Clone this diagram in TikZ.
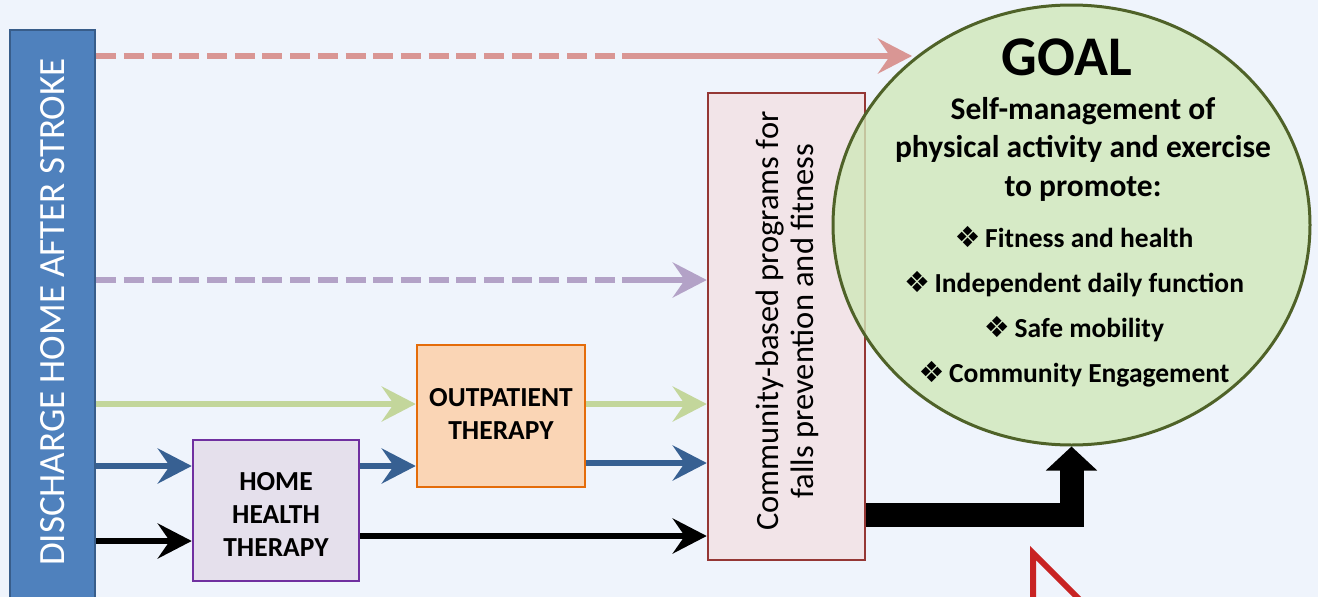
\documentclass[tikz,border=0pt]{standalone}
\usepackage{fontspec}
\setmainfont{Carlito}
\newfontfamily\dejavu{DejaVu Sans}
\usetikzlibrary{arrows.meta,shapes.geometric,calc}
\definecolor{bgc}{RGB}{239,244,252}
\definecolor{barfill}{RGB}{79,129,189}
\definecolor{bardraw}{RGB}{56,93,138}
\definecolor{redc}{RGB}{217,150,148}
\definecolor{purc}{RGB}{179,162,199}
\definecolor{grnc}{RGB}{195,214,155}
\definecolor{bluc}{RGB}{55,96,146}
\definecolor{hhfill}{RGB}{229,224,236}
\definecolor{hhdraw}{RGB}{112,48,160}
\definecolor{opfill}{RGB}{250,213,181}
\definecolor{opdraw}{RGB}{228,108,10}
\definecolor{cmfill}{RGB}{242,228,232}
\definecolor{cmdraw}{RGB}{149,55,53}
\definecolor{glfill}{RGB}{208,232,185}
\definecolor{gldraw}{RGB}{79,98,40}
\definecolor{tric}{RGB}{200,35,35}
\newcommand{\gbullet}{{\dejavu\fontsize{29}{29}\selectfont ❖}\,}
\tikzset{
  boxbase/.style={draw, line width=2.5pt, inner sep=0pt},
  flow/.style={line width=6pt, -{Stealth[length=34pt,width=35pt,inset=12pt]}},
  dashpart/.style={line width=6pt, dash pattern=on 20pt off 7.7pt},
  lbl/.style={font=\fontsize{27.5}{33}\selectfont\bfseries, align=center, inner sep=0pt},
}
\begin{document}
\begin{tikzpicture}[x=1pt,y=-1pt]
\fill[bgc] (0,0) rectangle (1318,597);
\useasboundingbox (0,0) rectangle (1318,597);
\clip (0,0) rectangle (1318,597);
% nodes
\node[boxbase, fill=barfill, draw=bardraw, minimum width=85pt, minimum height=580pt] (bar) at (52.5,320) {};
\node[rotate=90, text=white, font=\fontsize{37}{42}\selectfont, inner sep=0pt] (bartext) at (53,312) {DISCHARGE HOME AFTER STROKE};
\node[boxbase, fill=hhfill, draw=hhdraw, minimum width=166pt, minimum height=141pt] (hh) at (276,510.5) {};
\node[lbl] (hhtext) at (276,514) {HOME\\HEALTH\\THERAPY};
\node[boxbase, fill=opfill, draw=opdraw, minimum width=168pt, minimum height=142pt] (op) at (501,416) {};
\node[lbl] (optext) at (501,414) {OUTPATIENT\\THERAPY};
\node[boxbase, fill=cmfill, draw=cmdraw, minimum width=157pt, minimum height=467pt] (comm) at (786.5,326.5) {};
\node[rotate=90, font=\fontsize{32.5}{35}\selectfont, align=center, inner sep=0pt] (commtext) at (787,321) {Community-based programs for\\falls prevention and fitness};
\node[ellipse, draw=gldraw, line width=3pt, fill=glfill, fill opacity=0.8, minimum width=477pt, minimum height=440pt, inner sep=0pt] (goal) at (1071.5,225) {};
\node[font=\fontsize{56}{60}\selectfont\bfseries, inner sep=0pt] (goaltitle) at (1067,57) {GOAL};
\node[font=\fontsize{31.5}{38.5}\selectfont\bfseries, align=center, inner sep=0pt] (goalsub) at (1083,149) {Self-management of\\physical activity and exercise\\to promote:};
\node[font=\fontsize{27.5}{45}\selectfont\bfseries, align=center, inner sep=0pt] (goalitems) at (1074,307) {\gbullet Fitness and health\\\gbullet Independent daily function\\\gbullet Safe mobility\\\gbullet Community Engagement};
% breaks for dashed connectors
\coordinate (rbreak) at (615,56);
\coordinate (rresume) at (622,56);
\coordinate (rtip) at (912,56);
\coordinate (pbreak) at (615,280);
\coordinate (presume) at (622,280);
% red
\draw[dashpart, redc] (bar.east |- 0,56) -- (rbreak);
\draw[flow, redc] (rresume) -- (rtip);
% purple
\draw[dashpart, purc] (bar.east |- 0,280) -- (pbreak);
\draw[flow, purc] (presume) -- (comm.west |- 0,280);
% green
\draw[flow, grnc] (bar.east |- 0,404) -- (op.west |- 0,404);
\draw[flow, grnc] (op.east |- 0,404) -- (comm.west |- 0,404);
% blue
\draw[flow, bluc] (bar.east |- 0,466) -- (hh.west |- 0,466);
\draw[flow, bluc] (hh.east |- 0,466) -- (op.west |- 0,466);
\draw[flow, bluc] (op.east |- 0,463) -- (comm.west |- 0,463);
% black
\draw[flow, black] (bar.east |- 0,541) -- (hh.west |- 0,541);
\draw[flow, black] (hh.east |- 0,536) -- (comm.west |- 0,536);
% thick to goal
\draw[line width=24pt, black, -{Triangle[length=24pt,width=50pt]}] (comm.east |- 0,514.5) -| (goal.south);
% red triangle at bottom
\draw[tric, line width=6pt, line join=miter] (1033,660) -- (1033,553) -- (1140,660);
\end{tikzpicture}
\end{document}
